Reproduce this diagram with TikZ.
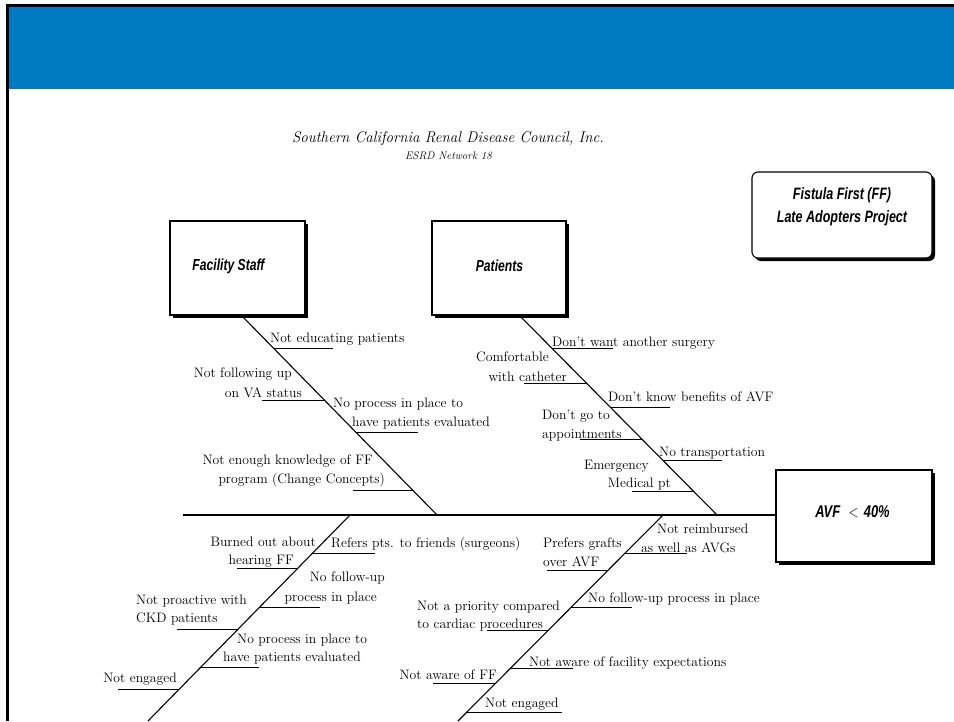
\documentclass[tikz,border=0pt]{standalone}
\usepackage{fontspec}
\usepackage{graphicx}
\usetikzlibrary{calc,shadows}
\newfontfamily\boxfont{Liberation Sans}
\definecolor{bandblue}{RGB}{0,122,193}
\newcommand\cond[1]{\scalebox{0.76}[1]{#1}}
\newcommand\causefont{\fontsize{13.7}{19}\selectfont}

\tikzset{
  cause/.style={font=\causefont, inner sep=0pt},
  lw/.style={cause, anchor=base west},
  le/.style={cause, anchor=base east},
  bone/.style={line width=1.1pt},
  uline/.style={line width=0.9pt},
  causebox/.style={draw, line width=1.1pt, fill=white, inner sep=0pt,
    drop shadow={shadow xshift=3pt, shadow yshift=-3pt, opacity=1, fill=black}},
  boxlbl/.style={font=\boxfont\bfseries\itshape\fontsize{16}{20}\selectfont, inner sep=0pt, align=center}
}

\begin{document}
\begin{tikzpicture}[x=1pt, y=-1pt]
  \useasboundingbox (0,0) rectangle (954,721);
  \fill[white] (0,0) rectangle (954,721);

  % slide frame and header band
  \fill[black] (6,4) rectangle (954,7);
  \fill[black] (6,4) rectangle (9,721);
  \fill[bandblue] (9,7) rectangle (954,89);

  % heading
  \node[font=\itshape\fontsize{15.5}{18}\selectfont, anchor=base, inner sep=0pt, xscale=0.97] (council) at (448,142)
    {Southern California Renal Disease Council, Inc.};
  \node[font=\itshape\fontsize{11}{12}\selectfont, anchor=base, inner sep=0pt] (network) at (448.5,159)
    {ESRD Network 18};

  % project box
  \node[causebox, rounded corners=6pt, minimum width=180pt, minimum height=86pt] (project) at (842,215) {};
  \node[boxlbl, font=\boxfont\bfseries\itshape\fontsize{16.5}{23}\selectfont] (projlbl) at (842,207)
    {\cond{Fistula First (FF)}\\\cond{Late Adopters Project}};

  % category boxes
  \node[causebox, minimum width=135pt, minimum height=94pt] (fsbox) at (237.5,268) {};
  \node[boxlbl] (fslbl) at (228.5,266) {\cond{Facility Staff}};
  \node[causebox, minimum width=134pt, minimum height=94pt] (ptbox) at (499,268) {};
  \node[boxlbl] (ptlbl) at (499.5,266) {\cond{Patients}};

  % effect box and spine
  \node[causebox, minimum width=156pt, minimum height=92pt] (effect) at (854,516) {};
  \node[boxlbl, font=\boxfont\bfseries\itshape\fontsize{17}{20}\selectfont] (efflbl) at (852.5,512)
    {\cond{AVF\hspace{11pt}$<$\hspace{7pt}40\%}};
  \coordinate (tail) at (183,515);
  \draw[line width=1.2pt] (tail) -- (tail -| effect.west);

  % main bones
  \coordinate (fsA) at (242,316);
  \coordinate (fsB) at (437,515);
  \coordinate (ptA) at (520,316);
  \coordinate (ptB) at (717,515);
  \coordinate (lbA) at (350,515);
  \coordinate (lbB) at (148,721);
  \coordinate (rbA) at (663,515);
  \coordinate (rbB) at (458,721);
  \draw[bone] (fsA) -- (fsB);
  \draw[bone] (ptA) -- (ptB);
  \draw[bone] (lbA) -- (lbB);
  \draw[bone] (rbA) -- (rbB);

  % sub-cause underlines
  \foreach \yy/\len in {348/60, 400/-62, 432/62, 490/-60}
    \draw[uline] ($(fsA)!{(\yy-316)/199}!(fsB)$) -- ++(\len,0);
  \foreach \yy/\len in {348/61, 383/-62, 407/60, 439/-62, 460/59, 491/-61}
    \draw[uline] ($(ptA)!{(\yy-316)/199}!(ptB)$) -- ++(\len,0);
  \foreach \yy/\len in {553/62, 568/-61, 607/60, 629/-61, 667/58, 689/-61}
    \draw[uline] ($(lbA)!{(\yy-515)/206}!(lbB)$) -- ++(\len,0);
  \foreach \yy/\len in {553/62, 570/-61, 607/61, 630/-62, 668/62, 683/-63, 712/95}
    \draw[uline] ($(rbA)!{(\yy-515)/206}!(rbB)$) -- ++(\len,0);

  % Facility Staff causes
  \node[lw] (fs1) at (270,342) {Not educating patients};
  \node[le] (fs2a) at (292,377) {Not following up};
  \node[le] (fs2b) at (302,397) {on VA status};
  \node[lw] (fs3a) at (333,407) {No process in place to};
  \node[lw] (fs3b) at (352,426) {have patients evaluated};
  \node[le] (fs4a) at (373,464) {Not enough knowledge of FF};
  \node[le] (fs4b) at (385,483) {program (Change Concepts)};

  % Patients causes
  \node[lw] (pt1) at (552,346) {Don't want another surgery};
  \node[le] (pt2a) at (549,361) {Comfortable};
  \node[le] (pt2b) at (567,381) {with catheter};
  \node[lw] (pt3) at (608,401) {Don't know benefits of AVF};
  \node[lw] (pt4a) at (542,419) {Don't go to};
  \node[lw] (pt4b) at (542,438) {appointments};
  \node[lw] (pt5) at (659,456) {No transportation};
  \node[le] (pt6a) at (649,469) {Emergency};
  \node[le] (pt6b) at (671,487) {Medical pt};

  % lower left bone causes
  \node[lw] (lb1) at (331,547) {Refers pts. to friends (surgeons)};
  \node[le] (lb2a) at (316,546) {Burned out about};
  \node[le] (lb2b) at (294,564) {hearing FF};
  \node[le] (lb3a) at (385,581) {No follow-up};
  \node[le] (lb3b) at (377,601) {process in place};
  \node[lw] (lb4a) at (136,604) {Not proactive with};
  \node[lw] (lb4b) at (136,622) {CKD patients};
  \node[lw] (lb5a) at (237,643) {No process in place to};
  \node[lw] (lb5b) at (223,661) {have patients evaluated};
  \node[le] (lb6) at (177,682) {Not engaged};

  % lower right bone causes
  \node[lw] (rb1a) at (657,533) {Not reimbursed};
  \node[lw] (rb1b) at (641,552) {as well as AVGs};
  \node[lw] (rb2a) at (543,547) {Prefers grafts};
  \node[lw] (rb2b) at (543,566) {over AVF};
  \node[lw] (rb3) at (588,602) {No follow-up process in place};
  \node[lw] (rb4a) at (417,610) {Not a priority compared};
  \node[lw] (rb4b) at (417,628) {to cardiac procedures};
  \node[lw] (rb5) at (529,666) {Not aware of facility expectations};
  \node[le] (rb6) at (497,679) {Not aware of FF};
  \node[lw] (rb7) at (485,707) {Not engaged};
\end{tikzpicture}
\end{document}
